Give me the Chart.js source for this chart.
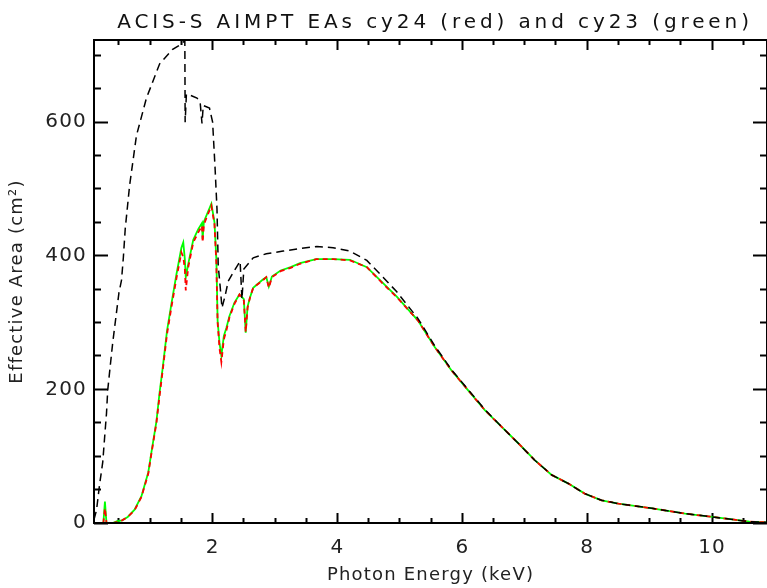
<!DOCTYPE html>
<html lang="en">
<head>
<meta charset="UTF-8">
<title>ACIS-S AIMPT EAs cy24 (red) and cy23 (green)</title>
<script src="https://cdn.jsdelivr.net/npm/chart.js"></script>
<style>
  html, body { margin: 0; padding: 0; background: #fff; overflow: hidden; }
  canvas { display: block; background: #fff; }
</style>
</head>
<body>
<canvas id="eaChart" width="767" height="588"></canvas>
<script>
const titleText = 'ACIS-S AIMPT EAs cy24 (red) and cy23 (green)';

// photon energy grid (keV) for the cy24 / cy23 curves
const energyCy = [0.10, 0.20, 0.25, 0.275, 0.30, 0.40, 0.48, 0.55, 0.64, 0.75, 0.86, 0.97, 1.02, 1.10, 1.15,
  1.20, 1.27, 1.34, 1.42, 1.50, 1.53, 1.555, 1.57, 1.61, 1.69, 1.77, 1.83, 1.84, 1.86, 1.98, 2.03, 2.06, 2.08,
  2.11, 2.14, 2.18, 2.22, 2.27, 2.35, 2.43, 2.50, 2.53, 2.56, 2.60, 2.65, 2.80, 2.86, 2.90, 2.95, 3.09, 3.25,
  3.40, 3.66, 3.93, 4.20, 4.47, 4.73, 4.95, 5.29, 5.56, 5.83, 6.09, 6.36, 6.63, 6.90, 7.16, 7.43, 7.70, 7.96,
  8.23, 8.50, 9.04, 9.57, 10.10, 10.60, 10.88];
// effective area cm^2, cycle 24 (red)
const areaCy24 = [0, 0, 0, 22, 0, 0, 2, 4, 9, 19, 39, 74, 104, 150, 190,
  228, 283, 323, 366, 405, 398, 380, 348, 383, 420, 435, 445, 420, 447, 475, 447, 388, 300,
  262, 241, 275, 288, 308, 328, 342, 333, 286, 322, 338, 352, 363, 368, 352, 368, 377, 382,
  388, 395, 395, 393, 383, 358, 338, 303, 263, 228, 199, 169, 144, 119, 94, 72, 59, 44,
  34, 29, 22, 14, 8, 2, 1];
// effective area cm^2, cycle 23 (green)
const areaCy23 = [0, 0, 0, 32, 0, 0, 3, 4, 9, 20, 40, 76, 106, 152, 195,
  232, 288, 328, 372, 412, 420, 395, 368, 388, 424, 440, 449, 425, 451, 478, 450, 395, 303,
  270, 250, 280, 292, 310, 330, 342, 335, 285, 324, 338, 352, 364, 368, 354, 369, 378, 383,
  389, 395, 395, 394, 383, 359, 339, 303, 263, 228, 199, 169, 144, 119, 94, 72, 59, 44,
  34, 29, 22, 14, 8, 2, 1];

// black dashed curve
const energyTop = [0.10, 0.14, 0.19, 0.24, 0.27, 0.30, 0.32, 0.36, 0.40, 0.46, 0.50, 0.54, 0.57, 0.60, 0.67,
  0.78, 0.94, 1.15, 1.36, 1.50, 1.555, 1.56, 1.58, 1.65, 1.75, 1.80, 1.83, 1.85, 1.95, 2.00, 2.04, 2.07,
  2.09, 2.12, 2.15, 2.20, 2.25, 2.33, 2.44, 2.47, 2.50, 2.65, 2.86, 3.13, 3.40, 3.67, 3.93, 4.20, 4.47,
  4.73, 4.95, 5.29, 5.56, 5.83, 6.09, 6.36, 6.63, 6.90, 7.16, 7.43, 7.70, 7.96, 8.23, 8.50, 9.04, 9.57,
  10.10, 10.60, 10.88];
const areaTop = [5, 19, 58, 91, 128, 164, 199, 235, 270, 315, 345, 363, 397, 440, 505,
  580, 636, 687, 709, 717, 722, 600, 642, 640, 636, 630, 598, 625, 621, 600, 530, 470,
  385, 355, 322, 340, 362, 375, 392, 335, 380, 397, 403, 407, 411, 414, 412, 407, 393,
  368, 346, 306, 265, 229, 200, 170, 144, 119, 94, 72, 59, 44, 34, 29, 22, 14,
  8, 2, 1];

const xTicks = [2, 4, 6, 8, 10];
const yTicks = [0, 200, 400, 600];
const xMinor = [0.5, 1, 1.5, 2.5, 3, 3.5, 4.5, 5, 5.5, 6.5, 7, 7.5, 8.5, 9, 9.5, 10.5];
const yMinor = [50, 100, 150, 250, 300, 350, 450, 500, 550, 650, 700];
const xRange = [0.1, 10.88];
const yRange = [0, 723];

const toPoints = (xv, yv) => xv.map((v, i) => ({ x: v, y: yv[i] }));

// label-less scale that only draws inward tick marks along one side of the frame
function tickScale(axis, position, values, len, weight) {
  const range = axis === 'x' ? xRange : yRange;
  return {
    type: 'linear',
    axis: axis,
    position: position,
    weight: weight,
    min: range[0],
    max: range[1],
    afterBuildTicks: s => { s.ticks = values.map(v => ({ value: v })); },
    afterFit: s => { if (axis === 'x') s.height = 0; else s.width = 0; },
    ticks: { display: false },
    border: { display: false },
    grid: {
      display: true,
      drawOnChartArea: false,
      drawTicks: true,
      tickLength: -len,
      tickWidth: 2,
      tickColor: '#000'
    }
  };
}

const framePlugin = {
  id: 'frame',
  beforeDraw(chart) {
    chart.ctx.letterSpacing = '1.2px';
  },
  afterDraw(chart) {
    const ctx = chart.ctx;
    const a = chart.chartArea;
    ctx.save();
    ctx.fillStyle = '#000';
    ctx.fillRect(a.left - 1, a.top - 1, a.right - a.left + 2, 2);
    ctx.fillRect(a.left - 1, a.bottom - 1, a.right - a.left + 2, 2);
    ctx.fillRect(a.left - 1, a.top - 1, 2, a.bottom - a.top + 2);
    ctx.fillRect(a.right - 1, a.top - 1, 2, a.bottom - a.top + 2);

    ctx.letterSpacing = '3.9px';
    ctx.fillStyle = '#111';
    ctx.font = '20px "DejaVu Sans"';
    ctx.textAlign = 'center';
    ctx.textBaseline = 'alphabetic';
    ctx.fillText(titleText, 435, 28);
    ctx.restore();
  }
};

new Chart(document.getElementById('eaChart'), {
  type: 'line',
  data: {
    datasets: [{
      label: 'top',
      data: toPoints(energyTop, areaTop),
      borderColor: '#000',
      borderWidth: 1.5,
      borderDash: [8, 5]
    }, {
      label: 'cy24',
      data: toPoints(energyCy, areaCy24),
      borderColor: '#ff0000',
      borderWidth: 1.8,
      borderDash: [5, 4]
    }, {
      label: 'cy23',
      data: toPoints(energyCy, areaCy23),
      borderColor: '#00ff00',
      borderWidth: 1.8
    }]
  },
  options: {
    responsive: false,
    animation: false,
    layout: { padding: { top: 40, right: 0, left: 0, bottom: 0 } },
    elements: { point: { radius: 0 }, line: { tension: 0 } },
    plugins: {
      legend: { display: false },
      title: { display: false },
      tooltip: { enabled: false }
    },
    scales: {
      x: {
        type: 'linear',
        position: 'bottom',
        weight: 1,
        min: xRange[0],
        max: xRange[1],
        afterBuildTicks: s => { s.ticks = xTicks.map(v => ({ value: v })); },
        afterFit: s => { s.height = 65; },
        grid: { display: true, drawOnChartArea: false, drawTicks: true, tickLength: -10, tickWidth: 2, tickColor: '#000' },
        border: { display: false },
        ticks: { color: '#222', padding: 23, font: { family: 'DejaVu Sans', size: 20 } },
        title: {
          display: true,
          text: 'Photon Energy (keV)',
          color: '#222',
          font: { family: 'DejaVu Sans', size: 18 },
          padding: { top: 0, bottom: 2 }
        }
      },
      y: {
        type: 'linear',
        position: 'left',
        weight: 1,
        min: yRange[0],
        max: yRange[1],
        afterBuildTicks: s => { s.ticks = yTicks.map(v => ({ value: v })); },
        afterFit: s => { s.width = 94; },
        grid: { display: true, drawOnChartArea: false, drawTicks: true, tickLength: -14, tickWidth: 2, tickColor: '#000' },
        border: { display: false },
        ticks: { color: '#222', padding: 21, font: { family: 'DejaVu Sans', size: 20 } },
        title: {
          display: true,
          text: 'Effective Area (cm²)',
          color: '#222',
          font: { family: 'DejaVu Sans', size: 18 },
          padding: { top: 7, bottom: 0 }
        }
      },
      xMinorBottom: tickScale('x', 'bottom', xMinor, 5, 0),
      xMajorTop: tickScale('x', 'top', xTicks, 10, 0),
      xMinorTop: tickScale('x', 'top', xMinor, 5, 0),
      yMinorLeft: tickScale('y', 'left', yMinor, 7, 0),
      yMajorRight: tickScale('y', 'right', yTicks, 14, 0),
      yMinorRight: tickScale('y', 'right', yMinor, 7, 0)
    }
  },
  plugins: [framePlugin]
});
</script>
</body>
</html>
